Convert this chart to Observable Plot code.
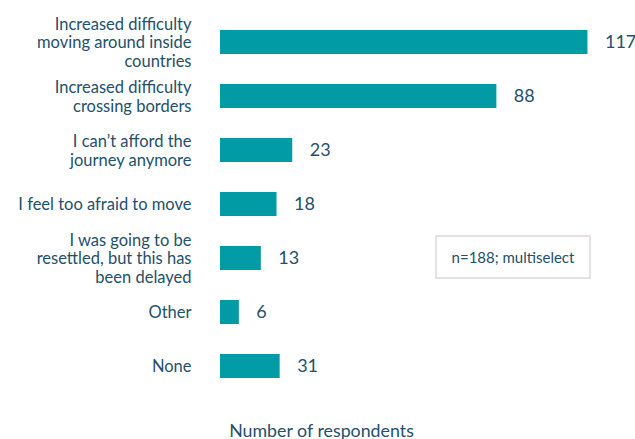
<!DOCTYPE html>
<html>
<head>
<meta charset="utf-8">
<script src="https://cdn.jsdelivr.net/npm/d3@7"></script>
<script src="https://cdn.jsdelivr.net/npm/@observablehq/plot@0.6"></script>
<style>
  html, body { margin: 0; padding: 0; background: #fff; }
  #wrap { position: relative; width: 635px; height: 439px; font-family: Lato, "Noto Sans", sans-serif; }
  #note { position: absolute; left: 435px; top: 235px; width: 152px; height: 40px; border: 2px solid #e7e0e3;
          display: flex; align-items: center; justify-content: center; font-size: 15px; color: #24506b; background: #fff; }
</style>
</head>
<body>
<div id="wrap"></div>
<script>
const categories = [
  "Increased difficulty\nmoving around inside\ncountries",
  "Increased difficulty\ncrossing borders",
  "I can\u2019t afford the\njourney anymore",
  "I feel too afraid to move",
  "I was going to be\nresettled, but this has\nbeen delayed",
  "Other",
  "None"
];
// bar lengths as drawn in the picture
const barValues = [117, 88, 23, 18, 13, 6, 19];
// value labels as printed in the picture
const valueLabels = ["117", "88", "23", "18", "13", "6", "31"];
const axisLabel = "Number of respondents";
const noteText = "n=188; multiselect";

const data = categories.map((c, i) => ({category: c, value: barValues[i], label: valueLabels[i]}));
const textColor = "#24506b";
const barColor = "#009ba5";

const chart = Plot.plot({
  width: 635,
  height: 439,
  marginLeft: 220,
  marginRight: 35,
  marginTop: 12,
  marginBottom: 44,
  style: {fontFamily: "Lato, 'Noto Sans', sans-serif", color: textColor, background: "#fff"},
  x: {domain: [0, 121], axis: null},
  y: {domain: categories, paddingInner: 0.56, paddingOuter: 0.28, axis: null},
  marks: [
    Plot.barX(data, {y: "category", x: "value", fill: barColor}),
    Plot.ruleX([0], {stroke: "#9a9a9a", strokeWidth: 1.2, y1: 15, y2: 399}),
    Plot.text(data, {y: "category", x: "value", text: "label", dx: 17, textAnchor: "start", fontSize: 18, fill: textColor}),
    Plot.axisY({tickSize: 0, tickPadding: 29, fontSize: 16.5, lineHeight: 1.13, fill: textColor, label: null}),
    Plot.text([axisLabel], {frameAnchor: "bottom", dx: -89, dy: 41, lineAnchor: "bottom", fontSize: 17.8, fill: textColor})
  ]
});

const wrap = document.getElementById("wrap");
wrap.appendChild(chart);
const note = document.createElement("div");
note.id = "note";
note.textContent = noteText;
wrap.appendChild(note);
</script>
</body>
</html>
